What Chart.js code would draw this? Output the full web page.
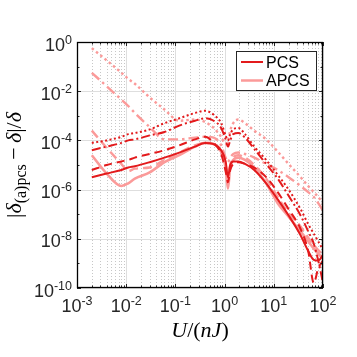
<!DOCTYPE html>
<html>
<head>
<meta charset="utf-8">
<script src="https://cdn.jsdelivr.net/npm/chart.js@4.4.0/dist/chart.umd.min.js"></script>
<style>
  html, body { margin: 0; padding: 0; background: #fff; }
</style>
</head>
<body>
<canvas id="errChart" width="357" height="357"></canvas>
<script>
// U / (nJ)
const energies = [0.002, 0.004, 0.008, 0.011, 0.015, 0.03, 0.06, 0.12, 0.25, 0.4, 0.6, 0.85, 1.05,
                  1.17, 1.3, 1.5, 1.9, 2.6, 4, 7, 12, 20, 35, 50, 65, 80, 100];

// PCS (dark red)
const pcsSolid   = [3.2e-6, 4.5e-6, 6.3e-6, 7.9e-6, 8.9e-6, 1.3e-5, 2.0e-5, 3.2e-5, 5.6e-5, 7.9e-5, 7.1e-5, 4.0e-5, 1.4e-5,
                    3.2e-6, 1.0e-5, 1.4e-5, 1.4e-5, 1.1e-5, 6.3e-6, 1.8e-6, 4.0e-7, 8.9e-8, 1.4e-8, 3.2e-9, 1.4e-9, 1.3e-9, 2.2e-9];
const pcsDashed  = [6.3e-6, 1.0e-5, 1.4e-5, 1.6e-5, 2.0e-5, 2.8e-5, 4.0e-5, 6.3e-5, 1.1e-4, 1.4e-4, 7.9e-5, 2.8e-5, 5.6e-6,
                    2.0e-6, 6.3e-6, 1.1e-5, 1.3e-5, 1.1e-5, 7.9e-6, 3.2e-6, 7.9e-7, 1.6e-7, 2.5e-8, 3.2e-9, 1.6e-10, 6.3e-10, 1.3e-9];
const pcsDashDot = [4.0e-5, 5.6e-5, 7.9e-5, 1.0e-4, 1.1e-4, 1.6e-4, 2.2e-4, 4.0e-4, 6.3e-4, 7.9e-4, 6.3e-4, 3.2e-4, 1.1e-4,
                    5.6e-5, 1.0e-4, 1.8e-4, 2.0e-4, 1.3e-4, 4.5e-5, 1.1e-5, 2.8e-6, 5.6e-7, 8.9e-8, 2.0e-8, 6.3e-9, 1.3e-9, 1.6e-10];
const pcsDotted  = [7.9e-5, 1.0e-4, 1.4e-4, 1.8e-4, 2.0e-4, 2.8e-4, 5.0e-4, 7.9e-4, 1.3e-3, 1.6e-3, 1.1e-3, 5.0e-4, 1.6e-4,
                    1.0e-4, 1.8e-4, 2.8e-4, 3.2e-4, 1.8e-4, 5.6e-5, 1.6e-5, 4.0e-6, 1.0e-6, 1.6e-7, 4.0e-8, 1.6e-8, 7.9e-9, 3.5e-9];

// APCS (light red)
const apcsSolid   = [2.5e-5, 4.5e-6, 1.4e-6, 1.8e-6, 2.8e-6, 5.0e-6, 1.3e-5, 2.5e-5, 5.6e-5, 7.9e-5, 7.1e-5, 3.5e-5, 7.9e-6,
                     1.1e-6, 7.9e-6, 1.6e-5, 2.0e-5, 1.6e-5, 7.9e-6, 1.8e-6, 2.8e-7, 7.9e-8, 2.0e-8, 7.9e-9, 4.0e-9, 2.5e-9, 1.6e-9];
const apcsDashed  = [2.5e-4, 5.0e-5, 1.1e-5, 5.6e-6, 7.1e-6, 7.9e-6, 1.6e-5, 3.2e-5, 6.3e-5, 7.9e-5, 7.1e-5, 3.5e-5, 1.0e-5,
                     2.5e-6, 1.0e-5, 2.0e-5, 2.5e-5, 2.0e-5, 1.0e-5, 2.8e-6, 5.0e-7, 1.1e-7, 3.2e-8, 1.1e-8, 5.6e-9, 3.5e-9, 2.2e-9];
const apcsDashDot = [5.6e-2, 1.6e-2, 4.5e-3, 2.5e-3, 1.3e-3, 3.5e-4, 1.1e-4, 1.1e-4, 1.3e-4, 1.4e-4, 1.3e-4, 6.3e-5, 2.0e-5,
                     1.3e-5, 2.0e-5, 2.8e-5, 3.2e-5, 2.8e-5, 2.0e-5, 1.1e-5, 6.3e-6, 3.2e-6, 1.4e-6, 7.9e-7, 5.0e-7, 2.8e-7, 1.4e-7];
const apcsDotted  = [0.56, 0.18, 5.6e-2, 3.2e-2, 2.0e-2, 5.6e-3, 1.8e-3, 6.3e-4, 7.1e-4, 5.6e-4, 3.2e-4, 1.4e-4, 7.1e-5,
                     8.9e-5, 2.5e-4, 5.0e-4, 7.1e-4, 5.0e-4, 2.5e-4, 1.1e-4, 3.5e-5, 1.1e-5, 3.2e-6, 1.4e-6, 7.9e-7, 5.0e-7, 2.8e-7];

const xTickExps = [-3, -2, -1, 0, 1, 2];
const yTickExps = [0, -2, -4, -6, -8, -10];
const legendLabels = ['PCS', 'APCS'];

const PCS_RED = '#e31a1c';
const APCS_PINK = '#fb9a99';
const SANS = '"Liberation Sans", Arial, sans-serif';
const SERIF = '"Liberation Serif", "Times New Roman", serif';

function series(label, values, color, width, dash) {
    return {
        label: label,
        data: energies.map((u, i) => ({ x: u, y: values[i] })),
        borderColor: color,
        borderWidth: width,
        borderDash: dash,
        pointRadius: 0,
        fill: false,
        cubicInterpolationMode: 'monotone',
    };
}

// minor dotted and major solid grid lines
const gridPlugin = {
    id: 'matlabGrid',
    beforeDatasetsDraw(chart) {
        const { ctx, chartArea: a, scales: { x, y } } = chart;
        ctx.save();
        ctx.lineWidth = 1;
        ctx.strokeStyle = 'rgba(0,0,0,0.22)';
        ctx.setLineDash([1, 2]);
        for (let e = -3; e < 2; e++) {
            for (let k = 2; k <= 9; k++) {
                const px = Math.round(x.getPixelForValue(k * Math.pow(10, e))) + 0.5;
                ctx.beginPath(); ctx.moveTo(px, a.top); ctx.lineTo(px, a.bottom); ctx.stroke();
            }
        }
        ctx.setLineDash([]);
        ctx.strokeStyle = '#dedede';
        xTickExps.forEach(e => {
            const px = Math.round(x.getPixelForValue(Math.pow(10, e))) + 0.5;
            ctx.beginPath(); ctx.moveTo(px, a.top); ctx.lineTo(px, a.bottom); ctx.stroke();
        });
        yTickExps.forEach(e => {
            const py = Math.round(y.getPixelForValue(Math.pow(10, e))) + 0.5;
            ctx.beginPath(); ctx.moveTo(a.left, py); ctx.lineTo(a.right, py); ctx.stroke();
        });
        ctx.restore();
    }
};

function drawPow(ctx, exp, x, y, align) {
    const base = '10', sup = String(exp);
    ctx.font = '18px ' + SANS;
    const wb = ctx.measureText(base).width;
    ctx.font = '12.5px ' + SANS;
    const ws = ctx.measureText(sup).width;
    const left = align === 'center' ? x - (wb + ws) / 2 : x - (wb + ws);
    ctx.textAlign = 'left';
    ctx.textBaseline = 'alphabetic';
    ctx.font = '18px ' + SANS;
    ctx.fillText(base, left, y);
    ctx.font = '12.5px ' + SANS;
    ctx.fillText(sup, left + wb, y - 7);
}

// pieces: [text, italic, baseline shift, size]
function drawPieces(ctx, pieces, x, y) {
    let w = 0;
    pieces.forEach(p => {
        ctx.font = (p[1] ? 'italic ' : '') + p[3] + 'px ' + SERIF;
        p.w = ctx.measureText(p[0]).width;
        w += p.w;
    });
    let cx = x - w / 2;
    ctx.textAlign = 'left';
    ctx.textBaseline = 'alphabetic';
    pieces.forEach(p => {
        ctx.font = (p[1] ? 'italic ' : '') + p[3] + 'px ' + SERIF;
        ctx.fillText(p[0], cx, y + p[2]);
        cx += p.w;
    });
}

const framePlugin = {
    id: 'matlabFrame',
    afterDatasetsDraw(chart) {
        const { ctx, chartArea: a, scales: { x, y } } = chart;
        ctx.save();
        ctx.strokeStyle = '#262626';
        ctx.lineWidth = 1;
        ctx.setLineDash([]);
        // ticks, pointing inwards on all four sides
        for (let e = -3; e <= 2; e++) {
            for (let k = 1; k <= 9; k++) {
                if (e === 2 && k > 1) break;
                const len = k === 1 ? 4 : 2.5;
                const px = Math.round(x.getPixelForValue(k * Math.pow(10, e))) + 0.5;
                ctx.beginPath();
                ctx.moveTo(px, a.bottom); ctx.lineTo(px, a.bottom - len);
                ctx.moveTo(px, a.top); ctx.lineTo(px, a.top + len);
                ctx.stroke();
            }
        }
        for (let e = -10; e <= 0; e++) {
            const len = e % 2 === 0 ? 4 : 2.5;
            const py = Math.round(y.getPixelForValue(Math.pow(10, e))) + 0.5;
            ctx.beginPath();
            ctx.moveTo(a.left, py); ctx.lineTo(a.left + len, py);
            ctx.moveTo(a.right, py); ctx.lineTo(a.right - len, py);
            ctx.stroke();
        }
        ctx.lineWidth = 1.3;
        ctx.strokeStyle = '#000';
        ctx.strokeRect(a.left + 0.5, a.top + 0.5, a.right - a.left - 1, a.bottom - a.top - 1);

        // tick labels
        ctx.fillStyle = '#262626';
        xTickExps.forEach(e => drawPow(ctx, e, x.getPixelForValue(Math.pow(10, e)), a.bottom + 24, 'center'));
        yTickExps.forEach(e => drawPow(ctx, e, a.left - 5, y.getPixelForValue(Math.pow(10, e)) + 8.5, 'right'));

        // axis titles
        ctx.fillStyle = '#000';
        drawPieces(ctx, [['U', true, 0, 22], ['/(', false, 0, 22], ['nJ', true, 0, 22], [')', false, 0, 22]],
            (a.left + a.right) / 2, 337);
        ctx.save();
        ctx.translate(21, (a.top + a.bottom) / 2);
        ctx.rotate(-Math.PI / 2);
        drawPieces(ctx, [['|', false, 0, 22], ['\u03B4', true, 0, 22], ['(a)pcs', false, 5, 16],
            ['\u2009\u2212\u2009', false, 0, 22], ['\u03B4', true, 0, 22], ['|/', false, 0, 22],
            ['\u03B4', true, 0, 22]], 0, 0);
        ctx.restore();

        // legend
        const lx = 236.5, ly = 51.5, lw = 80, lh = 39;
        ctx.fillStyle = '#fff';
        ctx.fillRect(lx, ly, lw, lh);
        ctx.strokeStyle = '#262626';
        ctx.lineWidth = 1;
        ctx.strokeRect(lx, ly, lw, lh);
        const colors = [PCS_RED, APCS_PINK];
        const widths = [2, 2.5];
        legendLabels.forEach((lab, i) => {
            const yy = 62 + i * 18.5;
            ctx.strokeStyle = colors[i];
            ctx.lineWidth = widths[i];
            ctx.beginPath(); ctx.moveTo(241, yy); ctx.lineTo(263, yy); ctx.stroke();
            ctx.fillStyle = '#000';
            ctx.font = '16px ' + SANS;
            ctx.textAlign = 'left';
            ctx.textBaseline = 'alphabetic';
            ctx.fillText(lab, 266, yy + 5.5);
        });
        ctx.restore();
    }
};

new Chart(document.getElementById('errChart').getContext('2d'), {
    type: 'line',
    data: {
        datasets: [
            series('PCS', pcsSolid, PCS_RED, 2, []),
            series('PCS dashed', pcsDashed, PCS_RED, 2, [8, 5]),
            series('PCS dash-dot', pcsDashDot, PCS_RED, 2, [9, 3, 2, 3]),
            series('PCS dotted', pcsDotted, PCS_RED, 2, [2, 2.5]),
            series('APCS', apcsSolid, APCS_PINK, 2.6, []),
            series('APCS dashed', apcsDashed, APCS_PINK, 2.4, [9, 5]),
            series('APCS dash-dot', apcsDashDot, APCS_PINK, 2.4, [10, 4, 2.5, 4]),
            series('APCS dotted', apcsDotted, APCS_PINK, 2.4, [2.5, 3]),
        ],
    },
    options: {
        responsive: false,
        animation: false,
        layout: { padding: { left: 77, right: 34, top: 42, bottom: 69 } },
        plugins: { legend: { display: false }, tooltip: { enabled: false } },
        scales: {
            x: { type: 'logarithmic', min: 1e-3, max: 1e2, display: false },
            y: { type: 'logarithmic', min: 1e-10, max: 1, display: false },
        },
    },
    plugins: [gridPlugin, framePlugin],
});
</script>
</body>
</html>
